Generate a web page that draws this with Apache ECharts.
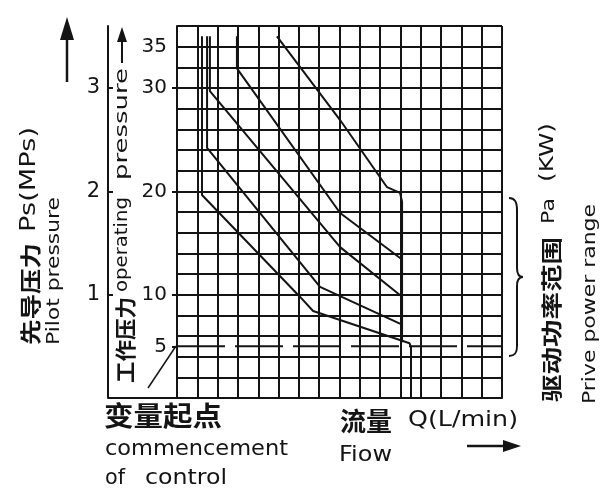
<!DOCTYPE html>
<html><head><meta charset="utf-8">
<script src="https://cdn.jsdelivr.net/npm/echarts@6/dist/echarts.min.js"></script>
<style>html,body{margin:0;padding:0;background:#fff}#c{width:602px;height:493px}</style>
</head><body><div id="c"></div>
<script>
// ---- data (operating pressure in MPa, flow in grid columns) ----
const opTickAt = [5, 10, 20, 30, 34];
const opTickText = ['5', '10', '20', '30', '35'];
const opTickMarks = [5, 10, 20, 30];
const pilotTicks = [1, 2, 3];
const curveA = [[1.23,35],[1.23,19.65],[6.06,9.78],[6.70,8.42],[11.45,5.3],[11.52,4.9],[11.52,0]];
const curveB = [[1.48,35],[1.48,24.2],[7.04,10.75],[11.08,7.1]];
const curveC = [[1.62,35],[1.62,29.7],[8.03,14.6],[11.08,9.8]];
const curveD = [[2.95,35],[2.95,31.9],[8.03,17.9],[11.08,13.4]];
const curveE = [[4.92,35],[8.03,26.9],[10.34,20.4],[10.98,19.85],[11.08,19.0],[11.08,5.4]];
const minPressure = [[0,5],[16,5]];

const INK = '#141414';
const mctx = document.createElement('canvas').getContext('2d');
function fit(text, font, len){ mctx.font = font; return len / mctx.measureText(text).width; }
const CJK = '"Noto Sans CJK SC"';
const LAT = '"DejaVu Sans"';
function vtext(text, x, y0, font, len){
  return {type:'text', x:x, y:y0, rotation:Math.PI/2, scaleX:fit(text,font,len),
    style:{text:text, font:font, fill:INK, textAlign:'left', textVerticalAlign:'middle', align:'left', verticalAlign:'middle'}};
}
function htext(text, x, y, font, len){
  return {type:'text', x:x, y:y, scaleX:fit(text,font,len),
    style:{text:text, font:font, fill:INK, textAlign:'left', textVerticalAlign:'middle', align:'left', verticalAlign:'middle'}};
}
function ln(x1,y1,x2,y2,w){ return {type:'line', shape:{x1:x1,y1:y1,x2:x2,y2:y2}, style:{stroke:INK, lineWidth:w||2}}; }
function bz(x1,y1,c1x,c1y,c2x,c2y,x2,y2){ return {type:'bezierCurve', shape:{x1:x1,y1:y1,cpx1:c1x,cpy1:c1y,cpx2:c2x,cpy2:c2y,x2:x2,y2:y2}, style:{stroke:INK, lineWidth:2, fill:null}}; }
function head(pts){ return {type:'polygon', shape:{points:pts}, style:{fill:INK}}; }

const curveStyle = {color:INK, width:2};
function curve(d){ return {type:'line', data:d, symbol:'none', lineStyle:curveStyle, silent:true, z:5}; }

const chart = echarts.init(document.getElementById('c'), null, {renderer:'canvas'});
chart.setOption({
  backgroundColor:'#fff',
  animation:false,
  grid:{left:177, right:100, top:26, bottom:95},
  xAxis:{type:'value', min:0, max:16, interval:1,
    axisLine:{show:true, lineStyle:{color:INK, width:2}},
    axisTick:{show:false}, axisLabel:{show:false},
    splitLine:{show:true, lineStyle:{color:INK, width:2}}},
  yAxis:[
    // grid rows
    {type:'value', min:0, max:36, interval:2, position:'left',
      axisLine:{show:true, lineStyle:{color:INK, width:2}},
      axisTick:{show:false}, axisLabel:{show:false},
      splitLine:{show:true, lineStyle:{color:INK, width:2}}},
    // pilot pressure scale
    {type:'value', min:0, max:3.6, position:'left', offset:69,
      axisLine:{show:true, lineStyle:{color:INK, width:2}},
      axisTick:{show:true, inside:true, length:5, customValues:pilotTicks, lineStyle:{color:INK, width:2}},
      axisLabel:{show:true, margin:8, customValues:pilotTicks, color:INK, fontSize:21, fontFamily:'DejaVu Sans'},
      splitLine:{show:false}},
    // operating pressure labels
    {type:'value', min:0, max:36, position:'left', offset:0,
      axisLine:{show:false},
      axisTick:{show:true, inside:false, length:5, customValues:opTickMarks, lineStyle:{color:INK, width:2}},
      axisLabel:{show:true, margin:10, customValues:opTickAt, color:INK, fontSize:20, fontFamily:'DejaVu Sans',
        formatter:function(v){ const i = opTickAt.indexOf(v); return i >= 0 ? opTickText[i] : ''; }},
      splitLine:{show:false}}
  ],
  series:[
    curve(curveA), curve(curveB), curve(curveC), curve(curveD), curve(curveE),
    {type:'line', data:minPressure, symbol:'none', silent:true, z:5,
      lineStyle:{color:INK, width:2, type:[48,10]}}
  ],
  graphic:[
    // left pilot pressure title
    vtext('先导压力', 30, 345, 'bold 21px '+CJK, 102),
    vtext('Ps(MPs)', 30, 232, '21px '+LAT, 105),
    vtext('Pilot pressure', 55, 345, '17px '+LAT, 148),
    // operating pressure title
    vtext('工作压力', 125, 383, 'bold 21px '+CJK, 86),
    vtext('operating', 123, 292, '17px '+LAT, 95),
    vtext('pressure', 123, 180, '17px '+LAT, 112),
    ln(122, 63, 122, 38, 2), head([[122,27],[117,42],[127,42]]),
    // big pilot arrow
    ln(67, 82, 67, 36, 2.5), head([[67,17],[60,40],[74,40]]),
    // left box bottom
    ln(108, 398, 177, 398, 2),
    // pointer to start of control
    ln(148, 388, 176, 346, 1.5),
    // right brace
    bz(509,198, 515,198, 517,202, 517,210),
    ln(517,210,517,268,2),
    bz(517,268, 517,274, 519,277, 523,277),
    bz(523,277, 519,277, 517,280, 517,286),
    ln(517,286,517,346,2),
    bz(517,346, 517,353, 515,356, 509,356),
    // right titles
    vtext('驱动功率范围', 551, 402, 'bold 21px '+CJK, 165),
    vtext('Pa', 549, 224, '18px '+LAT, 26),
    vtext('(KW)', 548, 182, '19px '+LAT, 59),
    vtext('Prive power range', 591, 404, '17px '+LAT, 200),
    // bottom texts
    htext('变量起点', 104, 416, 'bold 27px '+CJK, 118),
    htext('commencement', 105, 450, '21px '+LAT, 183),
    htext('of', 105, 479, '21px '+LAT, 20),
    htext('control', 145, 479, '21px '+LAT, 82),
    htext('流量', 340, 421, 'bold 26px '+CJK, 52),
    htext('Q(L/min)', 408, 421, '21px '+LAT, 110),
    htext('Fiow', 339, 455, '22px '+LAT, 53),
    ln(467, 446, 506, 446, 2.5), head([[521,446],[503,440],[503,452]])
  ]
});
</script>
</body></html>
